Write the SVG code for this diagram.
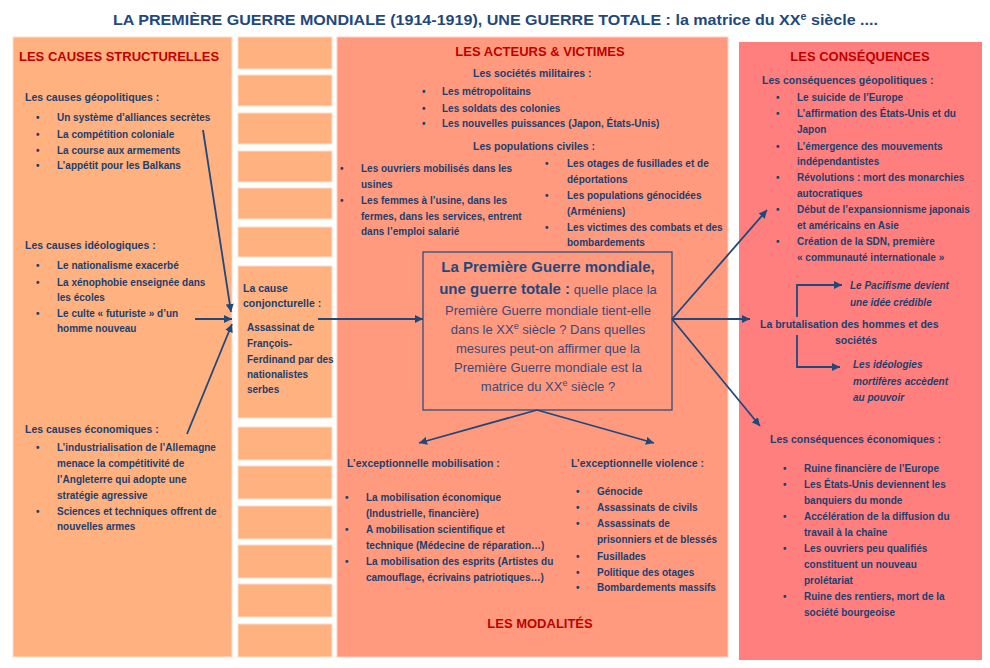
<svg xmlns="http://www.w3.org/2000/svg" width="990" height="668" viewBox="0 0 990 668">
<style>
text{font-family:"Liberation Sans",Arial,sans-serif;fill:#1B3F6E}
.b{font-size:10px;font-weight:bold}
.sh{font-size:10.5px;font-weight:bold}
.h{font-size:13px;font-weight:bold;fill:#C00000}
.it{font-size:10px;font-weight:bold;font-style:italic}
.q{font-size:13px;fill:#3A4A7A}
.qb{font-size:15px;font-weight:bold;fill:#1F497D}
.sm{fill:#FFB17F;stroke:#FCE0CC;stroke-width:1}
.con{fill:none;stroke:#1F497D;stroke-width:1.8}
</style>
<defs>
<marker id="ah" viewBox="0 0 10 10" refX="10" refY="5" markerWidth="4.5" markerHeight="4.5" orient="auto" markerUnits="strokeWidth">
<path d="M0,0 L10,5 L0,10 z" fill="#1F497D"/>
</marker>
</defs>
<rect width="990" height="668" fill="#FFFFFF"/>
<g id="title">
<text x="495.5" y="25" text-anchor="middle" font-size="15" font-weight="bold" style="fill:#1F497D" textLength="765" lengthAdjust="spacingAndGlyphs">LA PREMIÈRE GUERRE MONDIALE (1914-1919), UNE GUERRE TOTALE : la matrice du XX<tspan baseline-shift="super" font-size="10">e</tspan> siècle ....</text>
</g>
<g id="causes-structurelles">
<rect x="13" y="37" width="219" height="620" fill="#FFB17F" stroke="#FCE0CC" stroke-width="1"/>
<text class="h" x="19" y="61">LES CAUSES STRUCTURELLES</text>
<text class="sh" x="25" y="101">Les causes géopolitiques :</text>
<text class="b" x="36" y="121">•</text><text class="b" x="57" y="121">Un système d’alliances secrètes</text>
<text class="b" x="36" y="138">•</text><text class="b" x="57" y="138">La compétition coloniale</text>
<text class="b" x="36" y="154">•</text><text class="b" x="57" y="154">La course aux armements</text>
<text class="b" x="36" y="169">•</text><text class="b" x="57" y="169">L’appétit pour les Balkans</text>
<text class="sh" x="25" y="249">Les causes idéologiques :</text>
<text class="b" x="36" y="269">•</text><text class="b" x="57" y="269">Le nationalisme exacerbé</text>
<text class="b" x="36" y="286">•</text><text class="b" x="57" y="286">La xénophobie enseignée dans</text>
<text class="b" x="57" y="301">les écoles</text>
<text class="b" x="36" y="317">•</text><text class="b" x="57" y="317">Le culte « futuriste » d’un</text>
<text class="b" x="57" y="332">homme nouveau</text>
<text class="sh" x="25" y="433">Les causes économiques :</text>
<text class="b" x="36" y="451">•</text><text class="b" x="57" y="451">L’industrialisation de l’Allemagne</text>
<text class="b" x="57" y="467">menace la compétitivité de</text>
<text class="b" x="57" y="483">l’Angleterre qui adopte une</text>
<text class="b" x="57" y="499">stratégie agressive</text>
<text class="b" x="36" y="515">•</text><text class="b" x="57" y="515">Sciences et techniques offrent de</text>
<text class="b" x="57" y="530">nouvelles armes</text>
</g>
<g id="frise">
<rect class="sm" x="238" y="37" width="94" height="32"/>
<rect class="sm" x="238" y="75" width="94" height="31"/>
<rect class="sm" x="238" y="113" width="94" height="31"/>
<rect class="sm" x="238" y="151" width="94" height="31"/>
<rect class="sm" x="238" y="188" width="94" height="31"/>
<rect class="sm" x="238" y="227" width="94" height="30"/>
<rect class="sm" x="238" y="427" width="94" height="33"/>
<rect class="sm" x="238" y="466" width="94" height="33"/>
<rect class="sm" x="238" y="506" width="94" height="33"/>
<rect class="sm" x="238" y="545" width="94" height="33"/>
<rect class="sm" x="238" y="584" width="94" height="33"/>
<rect class="sm" x="238" y="624" width="94" height="33"/>
</g>
<g id="cause-conjoncturelle">
<rect class="sm" x="238" y="266" width="94" height="152"/>
<text class="sh" x="243" y="292">La cause</text>
<text class="sh" x="243" y="307">conjoncturelle :</text>
<text class="b" x="247" y="331">Assassinat de</text>
<text class="b" x="247" y="347">François-</text>
<text class="b" x="247" y="363">Ferdinand par des</text>
<text class="b" x="247" y="378">nationalistes</text>
<text class="b" x="247" y="393">serbes</text>
</g>
<g id="acteurs-victimes">
<rect x="337" y="37" width="391" height="620" fill="#FF9A7F" stroke="#FCCFC0" stroke-width="1"/>
<text class="h" x="540" y="56" text-anchor="middle">LES ACTEURS &amp; VICTIMES</text>
<text class="sh" x="473" y="77">Les sociétés militaires :</text>
<text class="b" x="422" y="95">•</text><text class="b" x="442" y="95">Les métropolitains</text>
<text class="b" x="422" y="112">•</text><text class="b" x="442" y="112">Les soldats des colonies</text>
<text class="b" x="422" y="127">•</text><text class="b" x="442" y="127">Les nouvelles puissances (Japon, États-Unis)</text>
<text class="sh" x="473" y="150">Les populations civiles :</text>
<text class="b" x="340" y="172">•</text><text class="b" x="361" y="172">Les ouvriers mobilisés dans les</text>
<text class="b" x="361" y="188">usines</text>
<text class="b" x="340" y="204">•</text><text class="b" x="361" y="204">Les femmes à l’usine, dans les</text>
<text class="b" x="361" y="220">fermes, dans les services, entrent</text>
<text class="b" x="361" y="235">dans l’emploi salarié</text>
<text class="b" x="545" y="167">•</text><text class="b" x="567" y="167">Les otages de fusillades et de</text>
<text class="b" x="567" y="183">déportations</text>
<text class="b" x="545" y="199">•</text><text class="b" x="567" y="199">Les populations génocidées</text>
<text class="b" x="567" y="215">(Arméniens)</text>
<text class="b" x="545" y="231">•</text><text class="b" x="567" y="231">Les victimes des combats et des</text>
<text class="b" x="567" y="246">bombardements</text>
</g>
<g id="question-centrale">
<rect x="423" y="252" width="249" height="158" fill="none" stroke="#1F497D" stroke-width="1.2"/>
<text class="qb" x="548" y="272" text-anchor="middle">La Première Guerre mondiale,</text>
<text x="548" y="294" text-anchor="middle"><tspan class="qb">une guerre totale :</tspan><tspan class="q"> quelle place la</tspan></text>
<text class="q" x="548" y="315" text-anchor="middle">Première Guerre mondiale tient-elle</text>
<text class="q" x="548" y="334" text-anchor="middle">dans le XX<tspan baseline-shift="super" font-size="9">e</tspan> siècle ? Dans quelles</text>
<text class="q" x="548" y="353" text-anchor="middle">mesures peut-on affirmer que la</text>
<text class="q" x="548" y="372" text-anchor="middle">Première Guerre mondiale est la</text>
<text class="q" x="548" y="391" text-anchor="middle">matrice du XX<tspan baseline-shift="super" font-size="9">e</tspan> siècle ?</text>
</g>
<g id="modalites">
<text class="sh" x="347" y="467">L’exceptionnelle mobilisation :</text>
<text class="b" x="345" y="501">•</text><text class="b" x="366" y="501">La mobilisation économique</text>
<text class="b" x="366" y="517">(Industrielle, financière)</text>
<text class="b" x="345" y="533">•</text><text class="b" x="366" y="533">A mobilisation scientifique et</text>
<text class="b" x="366" y="549">technique (Médecine de réparation…)</text>
<text class="b" x="345" y="565">•</text><text class="b" x="366" y="565">La mobilisation des esprits (Artistes du</text>
<text class="b" x="366" y="581">camouflage, écrivains patriotiques…)</text>
<text class="sh" x="571" y="467">L’exceptionnelle violence :</text>
<text class="b" x="576" y="495">•</text><text class="b" x="597" y="495">Génocide</text>
<text class="b" x="576" y="511">•</text><text class="b" x="597" y="511">Assassinats de civils</text>
<text class="b" x="576" y="527">•</text><text class="b" x="597" y="527">Assassinats de</text>
<text class="b" x="597" y="543">prisonniers et de blessés</text>
<text class="b" x="576" y="560">•</text><text class="b" x="597" y="560">Fusillades</text>
<text class="b" x="576" y="576">•</text><text class="b" x="597" y="576">Politique des otages</text>
<text class="b" x="576" y="591">•</text><text class="b" x="597" y="591">Bombardements massifs</text>
<text class="h" x="540" y="628" text-anchor="middle">LES MODALITÉS</text>
</g>
<g id="consequences">
<rect x="739" y="42" width="243" height="618" fill="#FF7F7F"/>
<text class="h" x="860" y="61" text-anchor="middle">LES CONSÉQUENCES</text>
<text class="sh" x="762" y="84">Les conséquences géopolitiques :</text>
<text class="b" x="776" y="101">•</text><text class="b" x="797" y="101">Le suicide de l’Europe</text>
<text class="b" x="776" y="117">•</text><text class="b" x="797" y="117">L’affirmation des États-Unis et du</text>
<text class="b" x="797" y="133">Japon</text>
<text class="b" x="776" y="150">•</text><text class="b" x="797" y="150">L’émergence des mouvements</text>
<text class="b" x="797" y="165">indépendantistes</text>
<text class="b" x="776" y="181">•</text><text class="b" x="797" y="181">Révolutions : mort des monarchies</text>
<text class="b" x="797" y="197">autocratiques</text>
<text class="b" x="776" y="213">•</text><text class="b" x="797" y="213">Début de l’expansionnisme japonais</text>
<text class="b" x="797" y="229">et américains en Asie</text>
<text class="b" x="776" y="245">•</text><text class="b" x="797" y="245">Création de la SDN, première</text>
<text class="b" x="797" y="261">« communauté internationale »</text>
<text class="sh" x="760" y="328">La brutalisation des hommes et des</text>
<text class="sh" x="835" y="344">sociétés</text>
<text class="it" x="850" y="289">Le Pacifisme devient</text>
<text class="it" x="850" y="306">une idée crédible</text>
<text class="it" x="853" y="368">Les idéologies</text>
<text class="it" x="853" y="385">mortifères accèdent</text>
<text class="it" x="853" y="401">au pouvoir</text>
<text class="sh" x="770" y="443">Les conséquences économiques :</text>
<text class="b" x="783" y="472">•</text><text class="b" x="804" y="472">Ruine financière de l’Europe</text>
<text class="b" x="783" y="488">•</text><text class="b" x="804" y="488">Les États-Unis deviennent les</text>
<text class="b" x="804" y="504">banquiers du monde</text>
<text class="b" x="783" y="520">•</text><text class="b" x="804" y="520">Accélération de la diffusion du</text>
<text class="b" x="804" y="536">travail à la chaîne</text>
<text class="b" x="783" y="552">•</text><text class="b" x="804" y="552">Les ouvriers peu qualifiés</text>
<text class="b" x="804" y="568">constituent un nouveau</text>
<text class="b" x="804" y="584">prolétariat</text>
<text class="b" x="783" y="600">•</text><text class="b" x="804" y="600">Ruine des rentiers, mort de la</text>
<text class="b" x="804" y="616">société bourgeoise</text>
</g>
<g id="connectors">
<path class="con" d="M203,130 L231,312" marker-end="url(#ah)"/>
<path class="con" d="M195,319 L232,319" marker-end="url(#ah)"/>
<path class="con" d="M187,434 L232,324" marker-end="url(#ah)"/>
<path class="con" d="M318,319 L423,319" marker-end="url(#ah)"/>
<path class="con" d="M537,410 L419,443" marker-end="url(#ah)"/>
<path class="con" d="M537,410 L654,443" marker-end="url(#ah)"/>
<path class="con" d="M672,319 L767,210" marker-end="url(#ah)"/>
<path class="con" d="M672,319 L750,319" marker-end="url(#ah)"/>
<path class="con" d="M672,319 L760,426" marker-end="url(#ah)"/>
<path class="con" d="M797,317 L797,285 L842,285" marker-end="url(#ah)"/>
<path class="con" d="M797,335 L797,367 L840,367" marker-end="url(#ah)"/>
</g>
</svg>
